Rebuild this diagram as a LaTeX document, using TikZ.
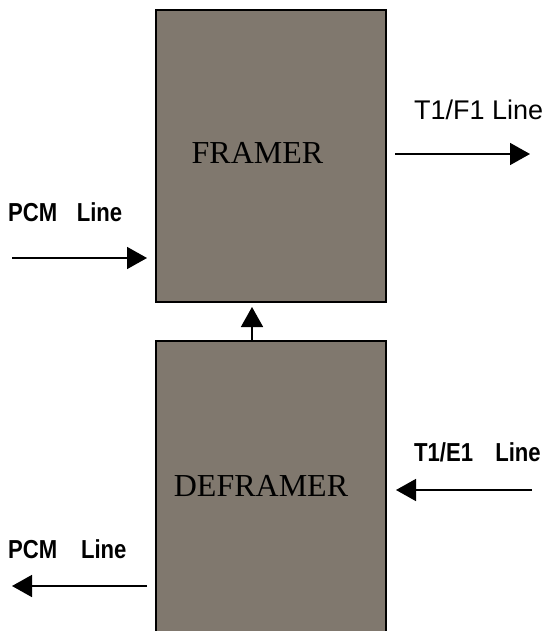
\documentclass[tikz,border=0pt]{standalone}
\usepackage{fontspec}
\setmainfont{Liberation Serif}
\setsansfont{Liberation Sans}
\usetikzlibrary{arrows.meta}
\definecolor{boxfill}{RGB}{128,120,110}
\newcommand{\narrowtext}[1]{\scalebox{0.85}[1]{#1}}
\tikzset{
  blockbox/.style={draw=black, line width=2.5pt, fill=boxfill, rectangle, inner sep=0pt},
  blocktext/.style={font=\fontsize{32}{38}\selectfont\rmfamily, inner sep=0pt, anchor=base},
  boldlabel/.style={font=\fontsize{26}{31}\selectfont\sffamily\bfseries, inner sep=0pt, anchor=base west},
  plainlabel/.style={font=\fontsize{27}{32}\selectfont\sffamily, inner sep=0pt, anchor=base west},
  sigarrow/.style={line width=1.6pt, -{Triangle[length=20pt, width=22pt]}}
}
\begin{document}
\begin{tikzpicture}[x=1pt, y=-1pt]
\useasboundingbox (0,0) rectangle (548,631);
\clip (0,0) rectangle (548,631);
% boxes
\node[blockbox, minimum width=230pt, minimum height=292pt] (framer) at (271,156) {};
\node[blockbox, minimum width=230pt, minimum height=310pt] (deframer) at (271,496) {};
\node[blocktext] (framertext) at (257.5,164) {FRAMER};
\node[blocktext] (deframertext) at (261,496) {DEFRAMER};
% labels
\node[plainlabel] (t1f1) at (414,120) {T1/F1 Line};
\node[boldlabel] (pcmtop) at (8,221) {\narrowtext{PCM\hspace{23pt}Line}};
\node[boldlabel] (t1e1) at (414,461) {\narrowtext{T1/E1\hspace{26pt}Line}};
\node[boldlabel] (pcmbot) at (8,558) {\narrowtext{PCM\hspace{28pt}Line}};
% connector end points
\coordinate (outA) at (395,154);
\coordinate (outB) at (530,154);
\coordinate (inA) at (12,258);
\coordinate (inB) at (147,258);
\coordinate (midA) at (252,341);
\coordinate (midB) at (252,307);
\coordinate (rinA) at (532,490);
\coordinate (rinB) at (396,490);
\coordinate (loutA) at (147,586);
\coordinate (loutB) at (12,586);
% connectors
\draw[sigarrow] (outA) -- (outB);
\draw[sigarrow] (inA) -- (inB);
\draw[sigarrow] (midA) -- (midB);
\draw[sigarrow] (rinA) -- (rinB);
\draw[sigarrow] (loutA) -- (loutB);
\end{tikzpicture}
\end{document}
